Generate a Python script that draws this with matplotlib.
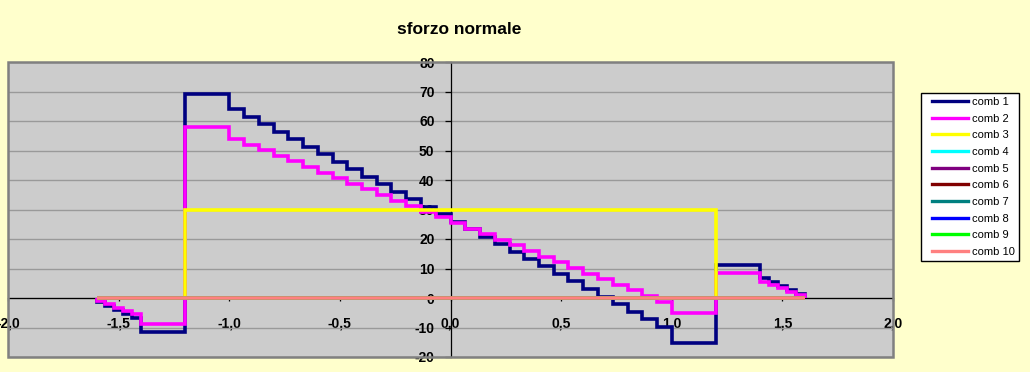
import matplotlib
matplotlib.use("Agg")
import matplotlib.pyplot as plt
from matplotlib.lines import Line2D
from matplotlib.legend_handler import HandlerLine2D
from matplotlib.ticker import FuncFormatter, MultipleLocator
from matplotlib.font_manager import FontProperties

# step edges along the beam (x) shared by comb 1 and comb 2
edges = [-1.6, -1.56, -1.52, -1.48, -1.44, -1.4, -1.2,
         -1.0, -0.933, -0.867, -0.8, -0.733, -0.667, -0.6, -0.533, -0.467, -0.4,
         -0.333, -0.267, -0.2, -0.133, -0.067, 0.0, 0.067, 0.133, 0.2, 0.267,
         0.333, 0.4, 0.467, 0.533, 0.6, 0.667, 0.733, 0.8, 0.867, 0.933, 1.0,
         1.2, 1.4, 1.44, 1.48, 1.52, 1.56, 1.6]

comb1 = [-1.3, -2.7, -4.0, -5.4, -6.8, -11.5, 69.0,
         64.0, 61.5, 58.9, 56.4, 53.8, 51.3, 48.8, 46.2, 43.7, 41.1, 38.6, 36.1,
         33.5, 31.0, 28.4, 25.9, 23.4, 20.8, 18.3, 15.7, 13.2, 10.7, 8.1, 5.6,
         3.0, 0.5, -2.0, -4.6, -7.1, -9.7,
         -15.2, 11.3, 6.8, 5.4, 4.0, 2.7, 1.3]

comb2 = [-1.1, -2.2, -3.3, -4.3, -5.4, -8.7, 57.8,
         53.9, 52.0, 50.1, 48.2, 46.3, 44.4, 42.5, 40.6, 38.7, 36.8, 34.9, 33.0,
         31.1, 29.2, 27.3, 25.4, 23.5, 21.6, 19.7, 17.8, 15.9, 14.0, 12.1, 10.2,
         8.3, 6.4, 4.5, 2.6, 0.7, -1.2,
         -5.2, 8.6, 5.4, 4.3, 3.3, 2.2, 1.1]

edges3 = [-1.6, -1.2, 1.2, 1.6]
comb3 = [0.0, 30.0, 0.0]

# comb 4 .. comb 10 are all zero along the beam
edges_zero = [-1.6, 1.6]
zero_vals = [0.0]

labels = ["comb %d" % i for i in range(1, 11)]
colors = ["#000080", "#FF00FF", "#FFFF00", "#00FFFF", "#800080",
          "#800000", "#008080", "#0000FF", "#00FF00", "#FF8080"]

series = [(comb1, edges), (comb2, edges), (comb3, edges3)] + [(zero_vals, edges_zero)] * 7

fig = plt.figure(figsize=(10.30, 3.72), dpi=100, facecolor="#FFFFCC")
ax = fig.add_axes([8 / 1030, 1 - 357 / 372, 885 / 1030, 295 / 372])
ax.set_facecolor("#CCCCCC")

for (vals, ed), c in zip(series, colors):
    ax.stairs(vals, ed, baseline=0, color=c, lw=2.6, joinstyle="miter", zorder=2)

ax.set_xlim(-2.0, 2.0)
ax.set_ylim(-20, 80)
ax.xaxis.set_major_locator(MultipleLocator(0.5))
ax.yaxis.set_major_locator(MultipleLocator(10))
ax.xaxis.set_major_formatter(FuncFormatter(lambda v, p: ("%.1f" % v).replace(".", ",")))
ax.yaxis.set_major_formatter(FuncFormatter(lambda v, p: "%d" % round(v)))

ax.yaxis.grid(True, color="#999999", lw=1)
ax.set_axisbelow(True)

for s in ["top", "right"]:
    ax.spines[s].set_visible(False)
for s in ["left", "bottom"]:
    ax.spines[s].set_position(("data", 0))
    ax.spines[s].set_linewidth(0.9)
    ax.spines[s].set_zorder(1.5)

ax.tick_params(axis="y", direction="out", length=4, width=0.9, pad=7.5)
ax.tick_params(axis="x", direction="out", length=2.5, width=0.9, pad=10.5)
for t in ax.get_xticklabels() + ax.get_yticklabels():
    t.set_fontfamily("Liberation Sans")
    t.set_fontweight("bold")
    t.set_fontsize(10)

# plot area border
ax.add_patch(plt.Rectangle((0, 0), 1, 1, transform=ax.transAxes, fill=False,
                           edgecolor="#808080", lw=1.8, clip_on=False, zorder=5))

fig.text(459 / 1030, 1 - 34 / 372, "sforzo normale", ha="center", va="baseline",
         fontfamily="Liberation Sans", fontweight="bold", fontsize=12.5)

handles = [Line2D([], [], color=c, lw=2.4) for c in colors]
leg = fig.legend(handles, labels, loc="upper left",
                 bbox_to_anchor=(921 / 1030, 1 - 92.7 / 372),
                 bbox_transform=fig.transFigure, borderaxespad=0,
                 fancybox=False, edgecolor="black", facecolor="white", framealpha=1,
                 prop=FontProperties(family="Liberation Sans", size=8),
                 handlelength=3.85, handletextpad=0.35, labelspacing=0.6, borderpad=0.38,
                 handler_map={Line2D: HandlerLine2D(xpad=0.65)})
leg.get_frame().set_linewidth(1)

fig.savefig("out.png", dpi=100, facecolor=fig.get_facecolor())
